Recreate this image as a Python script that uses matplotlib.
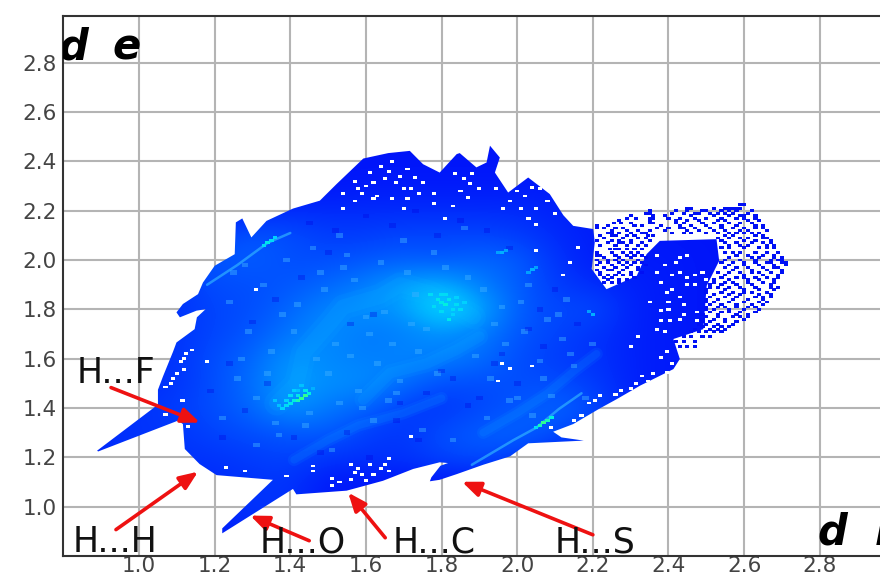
import matplotlib
matplotlib.use('Agg')
import matplotlib.pyplot as plt
import numpy as np
from matplotlib.colors import LinearSegmentedColormap
from matplotlib.patches import Polygon

# outline of the filled area
outline_x = [0.889, 1.050, 1.050, 1.063, 1.090, 1.099, 1.147, 1.153, 1.176, 1.152, 1.108, 1.099, 1.116, 1.156,
             1.169, 1.200, 1.253, 1.256, 1.273, 1.297, 1.337, 1.407, 1.478, 1.522, 1.593, 1.659, 1.716, 1.751,
             1.795, 1.840, 1.848, 1.892, 1.919, 1.928, 1.954, 1.941, 1.976, 2.029, 2.086, 2.122, 2.148, 2.201,
             2.205, 2.197, 2.236, 2.316, 2.342, 2.377, 2.527, 2.534, 2.501, 2.492, 2.413, 2.430, 2.413, 2.325,
             2.263, 2.219, 2.148, 2.095, 2.117, 2.176, 2.029, 1.981, 1.910, 1.840, 1.795, 1.769, 1.773, 1.797,
             1.817, 1.795, 1.725, 1.645, 1.549, 1.416, 1.407, 1.220, 1.220, 1.354, 1.205, 1.160, 1.121, 1.116,
             1.103, 0.892]
outline_y = [1.227, 1.414, 1.474, 1.527, 1.629, 1.666, 1.720, 1.768, 1.801, 1.795, 1.768, 1.788, 1.822, 1.862,
             1.909, 1.977, 2.024, 2.153, 2.169, 2.092, 2.159, 2.209, 2.241, 2.308, 2.412, 2.434, 2.443, 2.389,
             2.355, 2.430, 2.434, 2.376, 2.396, 2.464, 2.416, 2.355, 2.274, 2.335, 2.268, 2.182, 2.139, 2.126,
             2.072, 1.964, 1.882, 1.936, 2.024, 2.078, 2.085, 1.997, 1.896, 1.720, 1.680, 1.599, 1.558, 1.491,
             1.436, 1.399, 1.335, 1.304, 1.281, 1.268, 1.257, 1.204, 1.170, 1.132, 1.109, 1.103, 1.119, 1.166,
             1.177, 1.180, 1.153, 1.105, 1.065, 1.050, 1.072, 0.892, 0.912, 1.109, 1.128, 1.173, 1.234, 1.335,
             1.349, 1.224]

# density on a 0.1 grid, rows from d_e = 2.5 down to 0.8, columns d_i = 0.8 ... 2.8
dens_x = [0.8, 0.9, 1.0, 1.1, 1.2, 1.3, 1.4, 1.5, 1.6, 1.7, 1.8, 1.9, 2.0, 2.1, 2.2, 2.3, 2.4, 2.5, 2.6, 2.7, 2.8]
dens_y = [2.5, 2.4, 2.3, 2.2, 2.1, 2.0, 1.9, 1.8, 1.7, 1.6, 1.5, 1.4, 1.3, 1.2, 1.1, 1.0, 0.9, 0.8]
density = [
    [.05, .05, .05, .05, .05, .05, .05, .05, .05, .05, .05, .05, .05, .05, .05, .05, .05, .05, .05, .05, .05],
    [.05, .05, .05, .05, .05, .05, .05, .05, .05, .05, .05, .05, .05, .05, .05, .05, .05, .05, .05, .05, .05],
    [.05, .05, .05, .05, .05, .05, .05, .05, .06, .06, .06, .06, .06, .06, .05, .05, .05, .05, .05, .05, .05],
    [.05, .05, .05, .05, .06, .08, .10, .10, .10, .10, .10, .10, .10, .08, .06, .05, .05, .05, .05, .05, .05],
    [.06, .06, .06, .08, .14, .20, .18, .14, .14, .16, .16, .16, .14, .10, .07, .06, .05, .05, .05, .05, .05],
    [.06, .06, .10, .18, .20, .22, .18, .18, .20, .22, .20, .24, .22, .12, .07, .06, .06, .05, .05, .05, .05],
    [.06, .08, .10, .12, .18, .18, .20, .24, .30, .38, .42, .30, .22, .14, .10, .08, .06, .05, .05, .05, .05],
    [.06, .08, .10, .12, .16, .18, .24, .32, .34, .36, .52, .42, .22, .16, .18, .08, .06, .05, .05, .05, .05],
    [.06, .08, .10, .12, .16, .20, .28, .34, .28, .30, .34, .30, .20, .16, .12, .08, .06, .05, .05, .05, .05],
    [.06, .08, .10, .12, .18, .24, .36, .32, .30, .32, .30, .26, .18, .14, .12, .08, .06, .05, .05, .05, .05],
    [.06, .08, .10, .12, .18, .26, .38, .34, .34, .26, .18, .18, .18, .18, .14, .08, .06, .05, .05, .05, .05],
    [.08, .10, .12, .14, .18, .24, .36, .28, .24, .14, .12, .16, .20, .24, .18, .08, .06, .05, .05, .05, .05],
    [.08, .10, .12, .12, .16, .18, .20, .22, .14, .12, .18, .22, .24, .18, .12, .06, .06, .05, .05, .05, .05],
    [.08, .10, .12, .12, .12, .14, .16, .12, .12, .12, .16, .18, .14, .08, .06, .06, .05, .05, .05, .05, .05],
    [.06, .06, .08, .08, .10, .12, .12, .06, .05, .05, .05, .05, .05, .05, .05, .05, .05, .05, .05, .05, .05],
    [.06, .06, .06, .06, .08, .12, .12, .06, .05, .05, .05, .05, .05, .05, .05, .05, .05, .05, .05, .05, .05],
    [.05, .05, .05, .05, .08, .10, .07, .05, .05, .05, .05, .05, .05, .05, .05, .05, .05, .05, .05, .05, .05],
    [.05, .05, .05, .05, .05, .05, .05, .05, .05, .05, .05, .05, .05, .05, .05, .05, .05, .05, .05, .05, .05],
]

# lighter bands through the cloud
arc_x = [1.364, 1.417, 1.435, 1.505, 1.54, 1.637, 1.69, 1.77, 1.84, 1.884]
arc_y = [1.42, 1.50, 1.623, 1.745, 1.81, 1.853, 1.90, 1.866, 1.81, 1.77]
band2_x = [1.593, 1.664, 1.76, 1.84, 1.90]
band2_y = [1.434, 1.542, 1.58, 1.637, 1.69]
band3_x = [1.91, 2.00, 2.08, 2.15, 2.21]
band3_y = [1.30, 1.38, 1.46, 1.55, 1.62]
band4_x = [1.41, 1.50, 1.58, 1.70, 1.80]
band4_y = [1.19, 1.27, 1.33, 1.38, 1.44]

# bright streaks along the spikes
streak1_x = [1.18, 1.26, 1.34, 1.40]
streak1_y = [1.90, 1.98, 2.07, 2.11]
streak2_x = [1.88, 1.99, 2.05, 2.11, 2.17]
streak2_y = [1.17, 1.27, 1.32, 1.396, 1.46]

# brightest cells
hot_x = [1.40, 1.41, 1.42, 1.43, 1.44, 1.45, 1.39, 1.42, 1.44, 2.05, 2.06, 2.07, 2.08, 2.09, 1.33, 1.34, 1.35,
         1.36, 1.79, 1.80, 1.81, 1.78, 1.82, 1.83, 1.80, 1.84, 1.77, 1.81, 1.85, 1.86, 1.83, 1.80, 1.82, 1.84,
         1.95, 1.96, 1.97, 2.03, 2.04, 2.05, 2.19, 2.20, 1.38, 1.37, 1.40, 1.41, 1.43, 1.39, 1.42, 1.46, 1.36]
hot_y = [1.42, 1.43, 1.43, 1.44, 1.45, 1.46, 1.41, 1.45, 1.47, 1.32, 1.33, 1.34, 1.35, 1.36, 2.06, 2.07, 2.08,
         2.09, 1.84, 1.83, 1.82, 1.81, 1.84, 1.80, 1.79, 1.82, 1.86, 1.86, 1.80, 1.83, 1.78, 1.86, 1.76, 1.85,
         2.03, 2.03, 2.04, 1.95, 1.96, 1.97, 1.79, 1.78, 1.40, 1.41, 1.45, 1.47, 1.49, 1.43, 1.47, 1.48, 1.43]
hot_val = [.85, .9, .95, 1.0, 1.0, .9, .8, .85, .85, .8, .95, 1.0, .95, .9, .8, .85, .8,
           .75, .85, .85, .9, .8, .85, .8, .8, .8, .8, .8, .8, .75, .75, .8, .85, .75,
           .6, .65, .6, .6, .65, .6, .6, .65, .75, .7, .8, .75, .7, .75, .7, .65, .7]

# lighter and darker cells for the grainy look
light_x = [1.22, 1.26, 1.31, 1.35, 1.29, 1.24, 1.38, 1.33, 1.28, 1.36, 1.41, 1.47, 1.52, 1.45, 1.50, 1.56, 1.61,
           1.58, 1.53, 1.49, 1.63, 1.67, 1.72, 1.69, 1.74, 1.65, 1.60, 1.57, 1.54, 1.71, 1.76, 1.79, 1.66, 1.62,
           1.91, 1.94, 1.97, 1.89, 1.93, 1.98, 2.02, 2.06, 2.01, 2.09, 2.12, 2.15, 2.08, 2.04, 2.18, 2.13,
           1.31, 1.37, 1.44, 1.51, 1.59, 1.68, 1.75, 1.83, 1.92, 2.00, 2.07, 2.14, 1.27, 1.34, 1.42, 1.48,
           1.55, 1.64, 1.73, 1.81, 1.87, 1.96, 2.03, 2.11, 2.20, 1.25, 1.39, 1.46, 1.53, 1.70, 1.78, 1.86]
light_y = [1.36, 1.52, 1.44, 1.63, 1.71, 1.83, 1.78, 1.90, 1.98, 1.34, 1.71, 1.60, 1.66, 1.38, 1.54, 1.61, 1.70,
           1.47, 1.42, 1.88, 1.58, 1.66, 1.74, 1.51, 1.63, 1.79, 1.77, 1.92, 1.97, 1.95, 1.72, 1.54, 1.43, 1.35,
           1.88, 1.74, 1.66, 1.61, 1.52, 1.43, 1.71, 1.59, 1.83, 1.45, 1.68, 1.57, 1.76, 1.37, 1.44, 1.84,
           1.25, 1.29, 1.33, 1.23, 1.40, 1.46, 1.31, 1.27, 1.36, 1.44, 1.52, 1.62, 1.60, 1.54, 1.82, 1.95,
           2.02, 1.99, 1.86, 1.97, 1.93, 1.81, 1.90, 1.78, 1.66, 1.95, 2.00, 2.05, 2.10, 2.08, 2.03, 2.13]
dark_x = [1.19, 1.24, 1.30, 1.36, 1.43, 1.50, 1.56, 1.62, 1.69, 1.76, 1.83, 1.90, 1.96, 2.03, 2.10, 2.16, 1.22,
          1.28, 1.34, 1.41, 1.48, 1.55, 1.61, 1.68, 1.74, 1.80, 1.87, 1.94, 2.00, 2.07, 1.45, 1.52, 1.60, 1.67,
          1.73, 1.79, 1.85, 1.92, 1.98, 2.06]
dark_y = [1.47, 1.58, 1.75, 1.84, 1.93, 2.03, 1.74, 1.78, 1.42, 1.46, 1.52, 1.44, 1.62, 1.72, 1.88, 1.74, 1.28,
          1.39, 1.50, 1.28, 1.22, 1.30, 1.20, 1.35, 1.27, 1.55, 1.41, 1.58, 1.50, 1.65, 2.15, 2.12, 2.18, 2.14,
          2.20, 2.10, 2.16, 2.12, 2.05, 1.80]

# white holes inside the filled area
hole_x = [1.54, 1.57, 1.58, 1.59, 1.61, 1.62, 1.63, 1.64, 1.65, 1.67, 1.68, 1.70, 1.71, 1.73, 1.75, 1.57, 1.62,
          1.67, 1.71, 1.70, 1.54, 1.78, 1.78, 1.81, 1.83, 1.835, 1.86, 1.875, 1.85, 1.87, 1.90, 1.945, 1.963,
          2.00, 2.02, 2.04, 2.01, 2.05, 2.03, 2.05, 2.08, 2.10, 1.60, 1.66, 1.69, 1.72, 1.74, 1.88, 1.98, 2.06,
          1.56, 1.57, 1.58, 1.59, 1.61, 1.62, 1.64, 1.65, 1.66, 1.66, 1.60, 1.56, 1.53, 1.51, 1.51, 1.46, 1.46,
          1.39, 1.28, 1.23, 1.13, 1.115, 1.07, 1.72, 1.07, 1.085, 1.09, 1.10, 1.12, 1.12, 1.11, 1.18, 1.14, 1.125,
          1.31, 2.05, 2.16, 2.14, 2.12, 2.35, 2.32, 2.30, 2.38, 2.37, 2.39, 1.96, 1.98, 2.04, 1.95,
          2.37, 2.42, 2.39, 2.37, 2.41, 2.38, 2.43, 2.45, 2.43, 2.45, 2.47, 2.49, 2.50, 2.47, 2.45, 2.41, 2.395,
          2.43, 2.40, 2.38, 2.40, 2.44, 2.475, 2.44, 2.43, 2.475, 2.405,
          2.395, 2.41, 2.38, 2.395, 2.435, 2.36, 2.345, 2.37, 2.33, 2.315, 2.30, 2.275, 2.26, 2.22, 2.205, 2.19,
          2.09, 2.15, 2.17]
hole_y = [2.27, 2.32, 2.29, 2.27, 2.355, 2.315, 2.26, 2.38, 2.33, 2.40, 2.315, 2.29, 2.37, 2.335, 2.315, 2.24, 2.25,
          2.25, 2.25, 2.21, 2.21, 2.27, 2.23, 2.17, 2.22, 2.35, 2.33, 2.31, 2.28, 2.255, 2.29, 2.29, 2.21,
          2.28, 2.26, 2.295, 2.21, 2.21, 2.17, 2.145, 2.24, 2.19, 2.30, 2.36, 2.34, 2.29, 2.27, 2.35, 2.24, 2.29,
          1.17, 1.14, 1.155, 1.13, 1.17, 1.13, 1.155, 1.17, 1.195, 1.145, 1.105, 1.11, 1.10, 1.115, 1.085, 1.165, 1.145,
          1.125, 1.145, 1.16, 1.325, 1.43, 1.375, 1.285, 1.485, 1.50, 1.52, 1.54, 1.555, 1.60, 1.59, 1.59, 1.635, 1.62,
          1.88, 2.04, 2.05, 1.99, 1.94, 1.83, 1.69, 1.65, 1.755, 1.72, 1.71, 1.58, 1.56, 1.57, 1.51,
          2.02, 1.99, 1.98, 1.95, 1.94, 1.91, 2.01, 2.02, 1.95, 1.93, 1.94, 1.95, 1.92, 1.90, 1.90, 1.88, 1.87,
          1.85, 1.83, 1.795, 1.80, 1.82, 1.79, 1.78, 1.76, 1.755, 1.755,
          1.545, 1.58, 1.605, 1.63, 1.62, 1.54, 1.51, 1.51, 1.53, 1.50, 1.48, 1.47, 1.455, 1.45, 1.43, 1.42,
          1.32, 1.35, 1.37]

# loose blue cells in the fringe, one list of d_i per d_e row
fringe_y = [2.225, 2.21, 2.20, 2.19, 2.18, 2.17, 2.16, 2.15, 2.14, 2.13, 2.12, 2.11, 2.10, 2.09, 2.08, 2.07,
            2.06, 2.05, 2.045, 2.03, 2.02, 2.01, 2.00, 1.99, 1.98, 1.97, 1.96, 1.95, 1.94, 1.93, 1.92, 1.91,
            1.90, 1.89, 1.88, 1.87, 1.86, 1.85, 1.84, 1.83, 1.82, 1.81, 1.80, 1.79, 1.78, 1.77, 1.76, 1.75,
            1.74, 1.73, 1.72, 1.71, 1.69, 1.67, 1.65]
fringe_x = [[2.59, 2.60],
            [2.45, 2.46, 2.52, 2.55, 2.56, 2.57, 2.58, 2.59],
            [2.35, 2.42, 2.45, 2.49, 2.50, 2.54, 2.56, 2.58, 2.62],
            [2.34, 2.35, 2.41, 2.44, 2.47, 2.48, 2.51, 2.53, 2.55, 2.57, 2.61],
            [2.30, 2.36, 2.39, 2.46, 2.52, 2.56, 2.59, 2.60, 2.63],
            [2.29, 2.315, 2.35, 2.36, 2.40, 2.43, 2.47, 2.50, 2.54, 2.58, 2.60, 2.63],
            [2.27, 2.35, 2.42, 2.45, 2.48, 2.53, 2.55, 2.61, 2.64],
            [2.255, 2.275, 2.30, 2.35, 2.36, 2.42, 2.44, 2.49, 2.52, 2.56, 2.59, 2.62],
            [2.21, 2.24, 2.31, 2.33, 2.38, 2.43, 2.46, 2.50, 2.54, 2.58, 2.63, 2.65],
            [2.21, 2.23, 2.26, 2.28, 2.37, 2.40, 2.43, 2.44, 2.47, 2.51, 2.54, 2.57, 2.60, 2.63, 2.65],
            [2.25, 2.29, 2.32, 2.35, 2.39, 2.45, 2.48, 2.52, 2.55, 2.59, 2.61, 2.66],
            [2.24, 2.25, 2.27, 2.30, 2.33, 2.34, 2.41, 2.44, 2.46, 2.50, 2.53, 2.56, 2.58, 2.60, 2.62, 2.64],
            [2.22, 2.25, 2.26, 2.29, 2.31, 2.345, 2.36, 2.55, 2.57, 2.63, 2.65],
            [2.23, 2.28, 2.32, 2.34, 2.53, 2.56, 2.59, 2.61, 2.65, 2.66],
            [2.21, 2.25, 2.27, 2.30, 2.35, 2.54, 2.60, 2.63, 2.67],
            [2.24, 2.27, 2.28, 2.30, 2.33, 2.55, 2.58, 2.62, 2.65, 2.67],
            [2.22, 2.26, 2.29, 2.32, 2.34, 2.56, 2.59, 2.61, 2.66, 2.68],
            [2.54, 2.56, 2.60, 2.64, 2.66, 2.68],
            [2.245, 2.26, 2.27, 2.29, 2.31, 2.33],
            [2.21, 2.25, 2.28, 2.30, 2.32, 2.55, 2.57, 2.59, 2.63, 2.66, 2.69],
            [2.21, 2.22, 2.26, 2.29, 2.31, 2.33, 2.58, 2.61, 2.65, 2.68],
            [2.23, 2.27, 2.30, 2.34, 2.56, 2.62, 2.64, 2.68, 2.70],
            [2.21, 2.24, 2.26, 2.28, 2.32, 2.55, 2.59, 2.63, 2.67, 2.69, 2.70],
            [2.22, 2.24, 2.27, 2.29, 2.31, 2.33, 2.54, 2.57, 2.60, 2.63, 2.66, 2.67, 2.70, 2.71],
            [2.21, 2.25, 2.28, 2.30, 2.34, 2.56, 2.60, 2.64, 2.68, 2.71],
            [2.23, 2.26, 2.29, 2.32, 2.55, 2.58, 2.61, 2.65, 2.68, 2.69],
            [2.21, 2.24, 2.25, 2.28, 2.32, 2.57, 2.62, 2.66, 2.70],
            [2.22, 2.27, 2.30, 2.33, 2.53, 2.56, 2.59, 2.62, 2.64, 2.67, 2.70],
            [2.22, 2.24, 2.26, 2.28, 2.30, 2.55, 2.60, 2.65, 2.69],
            [2.23, 2.25, 2.31, 2.54, 2.58, 2.60, 2.63, 2.66, 2.69],
            [2.24, 2.27, 2.29, 2.52, 2.56, 2.61, 2.64, 2.68],
            [2.23, 2.25, 2.27, 2.52, 2.55, 2.57, 2.61, 2.65, 2.68],
            [2.51, 2.54, 2.58, 2.62, 2.67],
            [2.51, 2.53, 2.56, 2.59, 2.63, 2.67, 2.69],
            [2.50, 2.55, 2.60, 2.64, 2.68],
            [2.50, 2.54, 2.57, 2.60, 2.62, 2.66],
            [2.52, 2.56, 2.59, 2.64, 2.67],
            [2.51, 2.55, 2.58, 2.63, 2.65, 2.67],
            [2.50, 2.53, 2.57, 2.61, 2.65],
            [2.50, 2.52, 2.56, 2.60, 2.64, 2.66],
            [2.51, 2.54, 2.58, 2.62, 2.65],
            [2.50, 2.53, 2.55, 2.58, 2.61, 2.63],
            [2.50, 2.52, 2.56, 2.60, 2.64],
            [2.51, 2.54, 2.56, 2.59, 2.63],
            [2.49, 2.53, 2.58, 2.61],
            [2.50, 2.53, 2.57, 2.59, 2.61],
            [2.49, 2.52, 2.55, 2.60],
            [2.49, 2.51, 2.55, 2.58],
            [2.48, 2.50, 2.53, 2.57],
            [2.49, 2.52, 2.54, 2.56],
            [2.47, 2.51, 2.53, 2.55],
            [2.46, 2.48, 2.50, 2.52, 2.54],
            [2.44, 2.46, 2.49, 2.51],
            [2.42, 2.44, 2.47],
            [2.43, 2.45, 2.47]]

# labels and arrows (tail, tip)
contact_names = ['H...F', 'H...H', 'H...O', 'H...C', 'H...S']
label_x = [0.939, 0.936, 1.434, 1.78, 2.206]
label_y = [1.503, 0.818, 0.813, 0.813, 0.813]
tail_x = [0.926, 0.939, 1.45, 1.651, 2.20]
tail_y = [1.483, 0.907, 0.862, 0.874, 0.886]
tip_x = [1.161, 1.156, 1.294, 1.553, 1.854]
tip_y = [1.341, 1.142, 0.964, 1.057, 1.101]

ticks = [1.0, 1.2, 1.4, 1.6, 1.8, 2.0, 2.2, 2.4, 2.6, 2.8]

fig = plt.figure(figsize=(8.8, 5.72), dpi=100)
ax = fig.add_axes([63.4/880, 16/572, 832/880, 540/572])

cmap = LinearSegmentedColormap.from_list('fp', [(0, '#0000f8'), (0.3, '#0050ff'), (0.55, '#0090ff'),
                                                (0.75, '#00d0ff'), (0.9, '#00f0e0'), (1, '#30ff90')])

# density field cut to the outline
img = ax.imshow(density, cmap=cmap, vmin=0, vmax=0.62, aspect='auto', interpolation='bicubic', zorder=2,
                extent=[dens_x[0]-0.05, dens_x[-1]+0.05, dens_y[-1]-0.05, dens_y[0]+0.05])
shape = Polygon(np.column_stack([outline_x, outline_y]), closed=True, transform=ax.transData,
                facecolor='none', edgecolor='none')
ax.add_patch(shape)
img.set_clip_path(shape)

for bx, by, w in [(arc_x, arc_y, 1.0), (band2_x, band2_y, 0.7), (band3_x, band3_y, 0.5), (band4_x, band4_y, 0.5)]:
    for lw, a in [(18, 0.08), (11, 0.10)]:
        line, = ax.plot(bx, by, color='#10c0ff', lw=lw*w, alpha=a, zorder=2.5, solid_capstyle='round')
        line.set_clip_path(shape)

ax.bar(light_x, 0.018, width=0.018, bottom=np.array(light_y)-0.009, color='#40b0ff', alpha=0.45, zorder=2.6)
ax.bar(dark_x, 0.018, width=0.018, bottom=np.array(dark_y)-0.009, color='#0000e0', alpha=0.3, zorder=2.6)

for sx, sy in [(streak1_x, streak1_y), (streak2_x, streak2_y)]:
    ax.plot(sx, sy, color='#30b0ff', lw=1.8, alpha=0.7, zorder=3, solid_capstyle='round')

ax.bar(hot_x, 0.012, width=0.012, bottom=np.array(hot_y)-0.006, color=cmap(np.array(hot_val)), zorder=4)
ax.bar(hole_x, 0.011, width=0.011, bottom=np.array(hole_y)-0.0055, color='white', zorder=4)
for y, xs in zip(fringe_y, fringe_x):
    ax.bar(xs, 0.011, width=0.011, bottom=y-0.0055, color='#0010f5', zorder=4)

# arrows
for i in range(len(contact_names)):
    ax.annotate('', xy=(tip_x[i], tip_y[i]), xytext=(tail_x[i], tail_y[i]), zorder=6,
                arrowprops=dict(arrowstyle='-|>,head_length=1.1,head_width=0.45', color='#ee1111', lw=2.6,
                                shrinkA=0, shrinkB=0))
    ax.text(label_x[i], label_y[i], contact_names[i], ha='center', va='baseline', fontsize=25,
            color='#111111', zorder=7)

# corner axis letters, cut by the frame like in the source
ax.text(0.787, 2.812, 'd', fontsize=30, fontweight='bold', fontstyle='italic', color='black', clip_on=True, zorder=5)
ax.text(0.93, 2.812, 'e', fontsize=30, fontweight='bold', fontstyle='italic', color='black', clip_on=True, zorder=5)
ax.text(2.795, 0.845, 'd', fontsize=30, fontweight='bold', fontstyle='italic', color='black', clip_on=True, zorder=5)
ax.text(2.945, 0.845, 'i', fontsize=30, fontweight='bold', fontstyle='italic', color='black', clip_on=True, zorder=5)

ax.set_xlim(0.8, 3.0)
ax.set_ylim(0.8, 2.99)
ax.set_xticks(ticks)
ax.set_yticks(ticks)
ax.set_xticklabels([f'{t:.1f}' for t in ticks])
ax.set_yticklabels([f'{t:.1f}' for t in ticks])
ax.tick_params(length=0, labelsize=15.5, labelcolor='#444444', pad=5)
ax.tick_params(axis='x', pad=0)
ax.grid(True, color='#b4b4b4', lw=1.5)
ax.set_axisbelow(True)
for name in ['top', 'left', 'bottom']:
    ax.spines[name].set_color('#333333')
    ax.spines[name].set_linewidth(1.5)
ax.spines['right'].set_visible(False)

plt.savefig('out.png', dpi=100)
